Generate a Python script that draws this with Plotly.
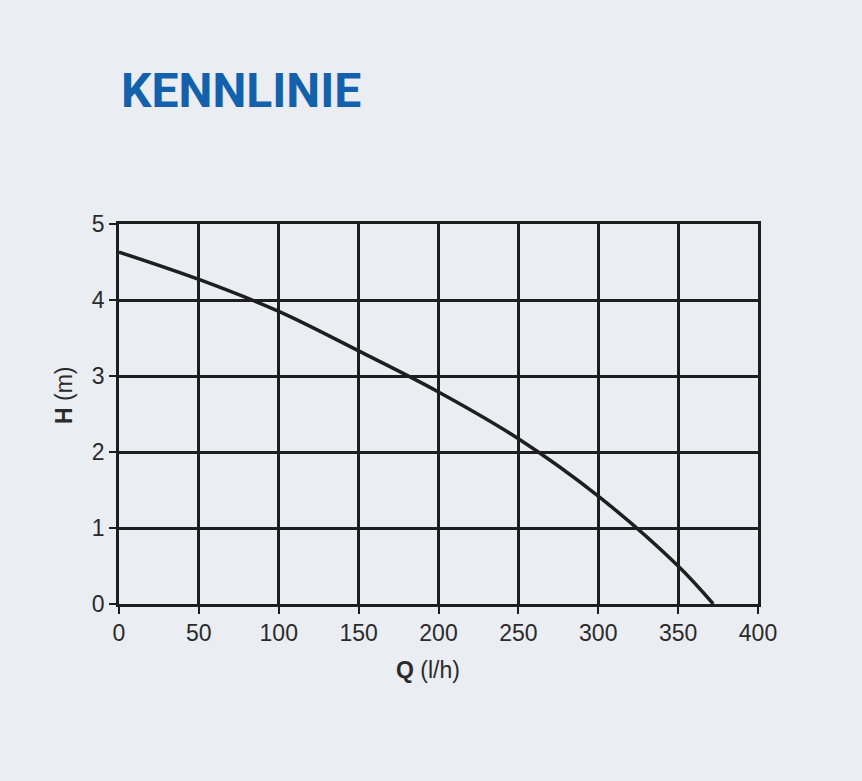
from plotly import graph_objects as go

# Pump curve
Q = [0, 50, 100, 150, 200, 250, 300, 350, 372]
H = [4.63, 4.27, 3.85, 3.33, 2.79, 2.175, 1.42, 0.5, 0.0]

X_TICKS = [0, 50, 100, 150, 200, 250, 300, 350, 400]
Y_TICKS = [0, 1, 2, 3, 4, 5]

BG = "#EAEDF1"
INK = "#1E1E1E"
TEXT = "#2A2A2A"
TITLE_BLUE = "#1361AD"
FONT = "Liberation Sans, Arial, sans-serif"

fig = go.Figure()
fig.add_trace(
    go.Scatter(
        x=Q,
        y=H,
        mode="lines",
        line=dict(color=INK, width=3.5, shape="spline", smoothing=1.0),
        showlegend=False,
        hoverinfo="x+y",
    )
)

fig.update_layout(
    width=862,
    height=781,
    margin=dict(l=119, r=104, t=224, b=177),
    paper_bgcolor=BG,
    plot_bgcolor=BG,
    font=dict(family=FONT, size=23, color=TEXT),
    showlegend=False,
    title=dict(
        text="<b>KENNLINIE</b>",
        font=dict(family="Roboto, Liberation Sans, sans-serif", size=48, color=TITLE_BLUE),
        xref="container",
        yref="container",
        x=121 / 862,
        xanchor="left",
        y=1 - 90 / 781,
        yanchor="middle",
    ),
)

axis_style = dict(
    showgrid=True,
    gridcolor=INK,
    gridwidth=2.5,
    showline=True,
    linecolor=INK,
    linewidth=2.5,
    mirror=True,
    zeroline=False,
    ticks="outside",
    ticklen=7,
    tickwidth=2,
    tickcolor=INK,
    tickfont=dict(family=FONT, size=23, color=TEXT),
)

fig.update_xaxes(range=[0, 400], tickvals=X_TICKS, **axis_style)
fig.update_yaxes(range=[0, 5], tickvals=Y_TICKS, **axis_style)

# axis titles placed as annotations (they sit off-centre in the original)
fig.add_annotation(
    text="<b>Q</b> (l/h)",
    xref="paper", yref="paper",
    x=(428 - 119) / 639, y=-(670 - 604) / 380,
    xanchor="center", yanchor="middle",
    showarrow=False,
    font=dict(family=FONT, size=23, color=TEXT),
)
fig.add_annotation(
    text="<b>H</b> (m)",
    xref="paper", yref="paper",
    x=-(119 - 64) / 639, y=(604 - 395) / 380,
    xanchor="center", yanchor="middle",
    textangle=-90,
    showarrow=False,
    font=dict(family=FONT, size=23, color=TEXT),
)

fig.write_html(
    "out.html",
    config={"displayModeBar": False},
    post_script="document.body.style.margin='0px';",
)
